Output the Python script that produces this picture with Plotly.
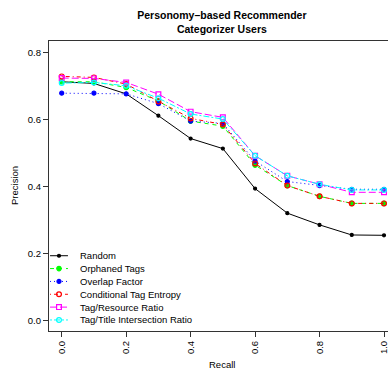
import plotly.graph_objects as go

recall = [0.0, 0.1, 0.2, 0.3, 0.4, 0.5, 0.6, 0.7, 0.8, 0.9, 1.0]

random_p      = [0.712, 0.707, 0.676, 0.611, 0.543, 0.513, 0.394, 0.321, 0.286, 0.256, 0.255]
orphaned_p    = [0.712, 0.712, 0.695, 0.655, 0.595, 0.580, 0.464, 0.403, 0.371, 0.350, 0.350]
overlap_p     = [0.678, 0.678, 0.676, 0.647, 0.595, 0.588, 0.476, 0.415, 0.403, 0.392, 0.392]
cond_ent_p    = [0.728, 0.725, 0.705, 0.653, 0.603, 0.585, 0.469, 0.403, 0.371, 0.350, 0.350]
tag_res_p     = [0.723, 0.722, 0.710, 0.675, 0.623, 0.606, 0.492, 0.432, 0.407, 0.383, 0.383]
tag_title_p   = [0.708, 0.710, 0.700, 0.663, 0.616, 0.601, 0.492, 0.432, 0.407, 0.390, 0.390]

names = ["Random", "Orphaned Tags", "Overlap Factor", "Conditional Tag Entropy",
         "Tag/Resource Ratio", "Tag/Title Intersection Ratio"]
series = [random_p, orphaned_p, overlap_p, cond_ent_p, tag_res_p, tag_title_p]
colors = ["#000000", "#00FF00", "#0000FF", "#FF0000", "#FF00FF", "#00FFFF"]
dashes = ["solid", "4px,4px", "1px,3px", "1px,3px,4px,3px", "7px,3px", "2px,2px,6px,2px"]
symbols = ["circle", "circle", "circle", "circle-open", "square-open", "circle-open"]
sizes = [3, 4.5, 4, 4.8, 4.8, 4.8]

x_ticks = [0.0, 0.2, 0.4, 0.6, 0.8, 1.0]
y_ticks = [0.0, 0.2, 0.4, 0.6, 0.8]

FONT = "Liberation Sans, Arial, Helvetica, sans-serif"

fig = go.Figure()
for name, ys, c, d, s, sz in zip(names, series, colors, dashes, symbols, sizes):
    fig.add_trace(go.Scatter(
        x=recall, y=ys, mode="lines+markers", name=name,
        line=dict(color=c, width=1, dash=d),
        marker=dict(symbol=s, size=sz, color=c, line=dict(color=c, width=1.2)),
        showlegend=False,
    ))

# custom compact legend (R-style)
for i, (name, c, d, s, sz) in enumerate(zip(names, colors, dashes, symbols, sizes)):
    fig.add_trace(go.Scatter(
        x=[0, 1], y=[i, i], mode="lines", xaxis="x2", yaxis="y2",
        line=dict(color=c, width=1, dash=d), showlegend=False, hoverinfo="skip",
    ))
    fig.add_trace(go.Scatter(
        x=[0.5], y=[i], mode="markers", xaxis="x2", yaxis="y2",
        marker=dict(symbol=s, size=sz, color=c, line=dict(color=c, width=1.2)),
        showlegend=False, hoverinfo="skip",
    ))
    fig.add_annotation(text=name, xref="paper", yref="y2", x=0.0855, y=i,
                       xanchor="left", yanchor="middle", showarrow=False,
                       font=dict(family=FONT, size=9.5, color="#000"))

fig.update_layout(
    width=388, height=369,
    margin=dict(l=49, r=0, t=41, b=38),
    paper_bgcolor="white", plot_bgcolor="white",
    font=dict(family=FONT, size=9.5, color="#000"),
    title=dict(text="<b>Personomy\u2013based Recommender<br>Categorizer Users</b>",
               x=0.51, xref="paper", xanchor="center",
               y=0.948, yref="container", yanchor="top",
               font=dict(family=FONT, size=10.5, color="#000")),
    xaxis=dict(range=[-0.0394, 1.0124], tickvals=x_ticks,
               ticktext=[f"{v:.1f}" for v in x_ticks], tickangle=-90,
               ticks="outside", ticklen=5, tickcolor="#333", tickwidth=1,
               ticklabeloverflow="allow",
               showline=True, linecolor="#333", linewidth=1.2, mirror=True,
               showgrid=False, zeroline=False,
               tickfont=dict(family=FONT, size=9.5, color="#000")),
    yaxis=dict(range=[-0.0298, 0.8333], tickvals=y_ticks,
               ticktext=[f"{v:.1f}" for v in y_ticks],
               ticks="outside", ticklen=5, tickcolor="#333", tickwidth=1,
               showline=True, linecolor="#333", linewidth=1.2,
               showgrid=False, zeroline=False,
               tickfont=dict(family=FONT, size=9.5, color="#000")),
    xaxis2=dict(domain=[0.003, 0.056], range=[0, 1], anchor="y2", visible=False,
                fixedrange=True),
    yaxis2=dict(domain=[0.0159, 0.2817], range=[5.5, -0.5], anchor="x2", visible=False,
                fixedrange=True),
    showlegend=False,
)

fig.add_annotation(text="Recall", xref="paper", yref="paper", x=0.51, y=0.0,
                   yshift=-33, xanchor="center", yanchor="middle", showarrow=False,
                   font=dict(family=FONT, size=9.5, color="#000"))
fig.add_annotation(text="Precision", xref="paper", yref="paper", x=0, xshift=-35,
                   y=0.5, xanchor="center", yanchor="middle", textangle=-90,
                   showarrow=False, font=dict(family=FONT, size=9.5, color="#000"))

fig.write_html("out.html")
